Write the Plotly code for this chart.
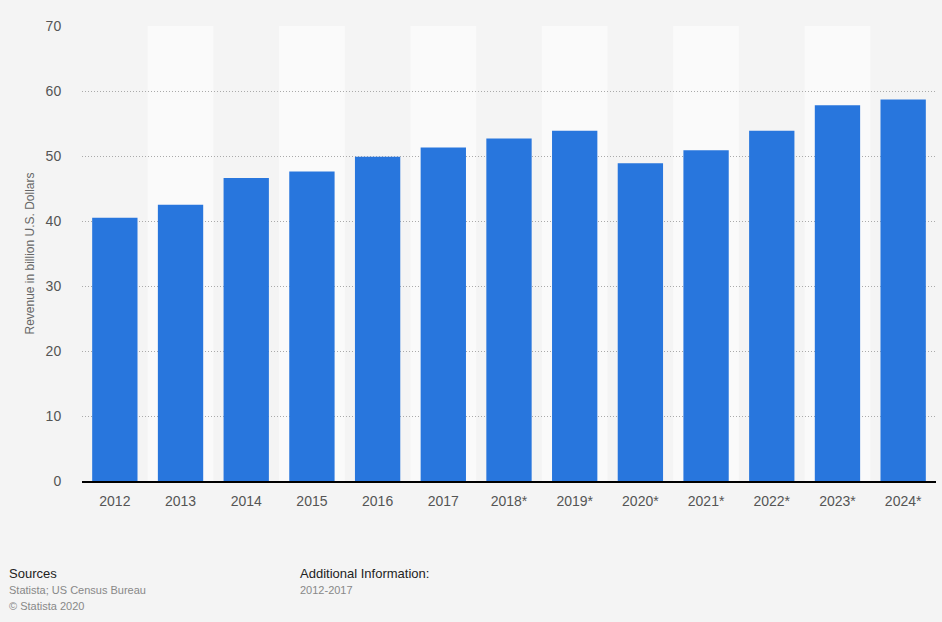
import plotly.graph_objects as go

years = ["2012", "2013", "2014", "2015", "2016", "2017", "2018*", "2019*",
         "2020*", "2021*", "2022*", "2023*", "2024*"]
revenue = [40.5, 42.5, 46.6, 47.6, 49.9, 51.3, 52.7, 53.9, 48.9, 50.9, 53.9, 57.8, 58.7]
y_ticks = [0, 10, 20, 30, 40, 50, 60, 70]

BG = "#f4f4f4"
BAND = "#fafafa"
BAR = "#2876dd"
FONT = "Liberation Sans, Arial, Helvetica, sans-serif"

fig = go.Figure()
fig.add_trace(go.Bar(x=years, y=revenue, marker=dict(color=BAR, line=dict(width=0)),
                     hoverinfo="x+y"))

shapes = []
for i in range(len(years)):
    if i % 2 == 1:
        shapes.append(dict(type="rect", xref="x", yref="paper", x0=i - 0.5, x1=i + 0.5,
                           y0=0, y1=1, fillcolor=BAND, line=dict(width=0), layer="below"))

annotations = [
    dict(text="Sources", x=7, y=573, font=dict(size=13, color="#222")),
    dict(text="Statista; US Census Bureau", x=7, y=590, font=dict(size=11, color="#888")),
    dict(text="© Statista 2020", x=7, y=606, font=dict(size=11, color="#888")),
    dict(text="Additional Information:", x=298, y=573, font=dict(size=13, color="#222")),
    dict(text="2012-2017", x=298, y=590, font=dict(size=11, color="#888")),
]
W, H = 942, 622
L, R, T, B = 82, 6, 26, 141
pw, ph = W - L - R, H - T - B
ann = []
for a in annotations:
    ann.append(dict(text=a["text"], xref="paper", yref="paper",
                    x=(a["x"] - L) / pw, y=1 - (a["y"] - T) / ph,
                    xanchor="left", yanchor="middle", showarrow=False,
                    font=dict(family=FONT, **a["font"])))

fig.update_layout(
    width=W, height=H,
    margin=dict(l=L, r=R, t=T, b=B, pad=0),
    paper_bgcolor=BG, plot_bgcolor=BG,
    bargap=0.31,
    showlegend=False,
    font=dict(family=FONT, color="#555"),
    shapes=shapes,
    annotations=ann,
    xaxis=dict(type="category", showgrid=False, showline=True, linecolor="#000",
               linewidth=1.5, ticks="outside", ticklen=6, tickcolor="rgba(0,0,0,0)",
               tickfont=dict(size=14, color="#555"), range=[-0.5, len(years) - 0.5]),
    yaxis=dict(range=[0, 70], tickvals=y_ticks, showgrid=True, gridcolor="#aaa",
               griddash="1px,2px", gridwidth=1, zeroline=False, showline=False,
               ticks="outside", ticklen=17, tickcolor="rgba(0,0,0,0)",
               tickfont=dict(size=14, color="#555"),
               title=dict(text="Revenue in billion U.S. Dollars",
                          font=dict(size=12, color="#666"), standoff=8)),
)

fig.write_html("out.html", config={"displayModeBar": False},
               post_script="document.body.style.margin='0';document.body.style.background='%s';" % BG)
